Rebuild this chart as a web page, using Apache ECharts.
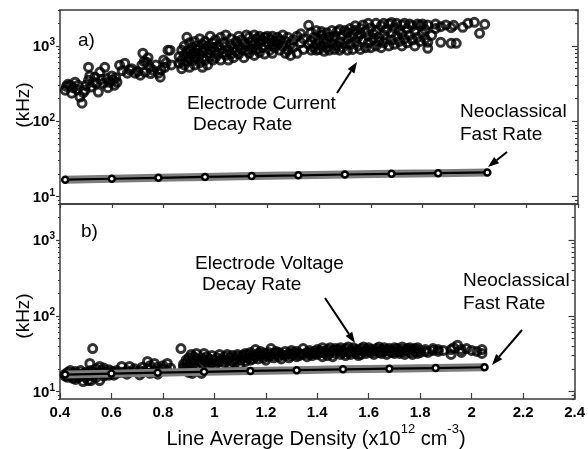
<!DOCTYPE html>
<html>
<head>
<meta charset="utf-8">
<script src="https://cdn.jsdelivr.net/npm/echarts@6/dist/echarts.min.js"></script>
<style>
  html, body { margin: 0; padding: 0; background: #fff; }
  #chart { width: 588px; height: 449px; }
</style>
</head>
<body>
<div id="chart"></div>
<script>
// Electrode current decay rate (kHz) versus line average density (1e12 cm^-3)
const currentDecay = [
  [0.42,259],[0.425,290],[0.43,310],[0.44,302],[0.445,236],[0.45,280],[0.458,330],[0.465,265],
  [0.47,300],[0.477,210],[0.485,174],[0.49,240],[0.497,259],[0.50,300],[0.51,523],[0.51,350],
  [0.515,400],[0.52,285],[0.53,330],[0.535,385],[0.54,320],[0.548,245],[0.554,450],[0.56,360],
  [0.567,320],[0.573,520],[0.58,370],[0.585,280],[0.59,330],[0.60,400],[0.605,350],[0.61,300],
  [0.615,380],[0.62,330],
  [0.63,555],[0.64,470],[0.65,590],[0.66,435],[0.67,480],[0.677,500],[0.69,435],[0.70,460],
  [0.71,410],[0.716,555],[0.72,800],[0.725,620],[0.728,450],[0.735,610],[0.74,700],[0.747,520],
  [0.75,430],[0.76,475],[0.77,560],[0.78,435],[0.787,385],[0.79,480],[0.80,650],[0.805,520],
  [0.81,600],[0.817,880],[0.825,880],[0.83,560],
  [0.86,590],[0.86,720],[0.87,500],[0.87,880],[0.87,650],[0.88,1000],[0.88,760],[0.88,560],
  [0.89,1300],[0.89,850],[0.89,620],[0.90,880],[0.90,700],[0.90,1100],[0.90,520],[0.91,950],
  [0.91,780],[0.91,640],[0.92,1150],[0.92,820],[0.92,560],[0.92,700],[0.93,1000],[0.93,680],
  [0.93,900],[0.94,1250],[0.94,760],[0.94,600],[0.95,1050],[0.95,850],[0.95,700],[0.95,520],
  [0.96,920],[0.96,1150],[0.96,650],[0.97,800],[0.97,1000],[0.97,560],[0.98,1350],[0.98,880],
  [0.98,720],[0.99,950],[0.99,650],[0.99,1100],[1.00,850],[1.00,1200],[1.00,700],[1.01,1000],
  [1.01,780],[1.02,900],[1.02,1300],[1.02,650],[1.03,1100],[1.03,820],[1.04,750],[1.04,980],
  [1.04,1400],[1.05,870],[1.05,650],[1.06,1050],[1.06,1250],[1.06,780],[1.07,920],[1.07,700],
  [1.08,1150],[1.08,850],[1.09,1350],[1.09,780],[1.09,1000],[1.10,900],[1.10,1200],[1.11,700],
  [1.11,1050],[1.12,1400],[1.12,880],
  [1.13,1000],[1.13,1300],[1.13,800],[1.14,1150],[1.14,900],[1.15,1400],[1.15,1050],[1.15,750],
  [1.16,1250],[1.16,900],[1.17,1100],[1.17,1350],[1.17,820],[1.18,950],[1.18,1200],[1.19,1300],
  [1.19,1000],[1.19,780],[1.20,1100],[1.20,1350],[1.21,880],[1.21,1250],[1.22,1000],[1.22,1350],
  [1.22,800],[1.23,1150],[1.23,950],[1.24,1300],[1.24,1050],[1.25,880],[1.25,1200],[1.26,1400],
  [1.26,1000],[1.27,1150],[1.27,800],[1.28,880],[1.28,1300],[1.29,750],[1.29,1050],[1.30,1200],
  [1.30,950],[1.315,800],[1.315,1350],[1.33,1100],[1.33,1450],[1.34,900],[1.34,1250],[1.36,1880],
  [1.36,1050],
  [1.37,880],[1.37,1150],[1.37,1500],[1.38,950],[1.38,1300],[1.39,1600],[1.39,1050],[1.39,880],
  [1.40,1200],[1.40,900],[1.41,1400],[1.41,1000],[1.41,1550],[1.42,850],[1.42,1250],[1.43,1100],
  [1.43,1500],[1.43,950],[1.44,1300],[1.44,880],[1.45,1600],[1.45,1050],[1.46,900],[1.46,1350],
  [1.46,1200],[1.47,1550],[1.47,1000],[1.48,880],[1.48,1150],[1.48,1650],[1.49,1400],[1.49,950],
  [1.50,1100],[1.50,1600],[1.51,880],[1.51,1250],[1.51,1500],[1.52,1050],[1.52,1700],[1.53,1350],
  [1.53,900],[1.54,1600],[1.54,1150],[1.54,1850],[1.55,1000],[1.55,1300],[1.56,900],[1.56,1700],
  [1.56,1450],[1.57,1200],[1.57,1900],[1.58,950],[1.58,1550],[1.59,1350],[1.59,1100],[1.59,2000],
  [1.60,1750],[1.60,950],[1.61,1250],[1.61,1450],[1.62,1000],[1.62,2000],[1.62,1600],[1.63,1300],
  [1.63,1150],[1.64,1850],[1.64,950],[1.65,1400],[1.65,1100],[1.65,2000],[1.66,1650],[1.66,1250],
  [1.67,1000],[1.67,1950],[1.68,1500],[1.68,1200],[1.68,2050],[1.69,1750],[1.69,1050],[1.70,1350],
  [1.70,2000],[1.71,1150],[1.71,1600],[1.72,1900],[1.72,1000],[1.72,1450],[1.73,1250],[1.73,2000],
  [1.74,1700],[1.74,1100],[1.75,1950],[1.75,1400],[1.76,1200],[1.76,1850],[1.77,1550],[1.77,1000],
  [1.78,1950],[1.78,1300],[1.79,1880],[1.79,1150],[1.80,1470],[1.80,1950],[1.81,1650],[1.81,1250],
  [1.82,1120],[1.82,930],[1.82,1900],[1.835,1385],[1.85,1700],[1.85,1950],[1.87,1120],[1.87,1800],
  [1.89,1900],[1.91,1085],[1.91,1750],[1.92,1880],[1.93,1085],[1.955,1770],[1.975,2000],[2.00,2060],
  [2.02,1470],[2.04,1940]
];

// Electrode voltage decay rate (kHz) versus line average density
const voltageDecay = [
  [0.42,17],[0.42,16],[0.43,18],[0.43,15.5],[0.44,16.5],[0.44,19],[0.45,15],[0.45,17.5],
  [0.46,16],[0.46,18.5],[0.46,14.5],[0.47,17],[0.47,15.5],[0.48,19],[0.48,16],[0.49,13.6],
  [0.49,17.5],[0.50,15.5],[0.50,18],[0.51,17],[0.51,14],[0.516,23.6],[0.516,16.5],[0.52,19],
  [0.52,14],[0.527,37],[0.53,18],[0.53,16],[0.54,20],[0.54,15.5],[0.554,21.5],[0.554,14],
  [0.56,17.5],[0.56,19],[0.57,16],[0.57,20.5],[0.58,18],[0.58,17],[0.59,19.5],[0.59,16.5],
  [0.60,17],[0.60,18.5],[0.61,18],[0.61,16.5],[0.62,19],[0.62,17.5],
  [0.64,21.5],[0.64,18],[0.66,19],[0.66,17],[0.67,21.5],[0.67,18],[0.69,18.5],[0.69,20],
  [0.71,16.6],[0.71,19],[0.72,21],[0.72,18],[0.74,25],[0.74,20],[0.75,22],[0.75,17.5],
  [0.767,23.6],[0.767,19],[0.78,21],[0.78,17],[0.786,18.5],[0.80,20],[0.80,22],[0.817,23.6],
  [0.817,19],[0.83,20.5],
  [0.87,37],[0.88,23],[0.88,21],[0.89,26],[0.89,20],[0.89,24],[0.90,28],[0.90,22],[0.90,18],
  [0.91,31],[0.91,25],[0.91,21],[0.914,17.4],[0.92,29],[0.92,23],[0.92,26],[0.93,32],[0.93,20],
  [0.93,27],[0.95,17.4],[0.95,24],[0.95,28],[0.96,32],[0.96,22],[0.96,26],[0.97,25],[0.97,29],
  [0.98,21],[0.98,27],[0.99,24],[0.99,30],[1.00,26],[1.00,22],[1.01,28],[1.01,24],[1.02,31],
  [1.02,25],[1.03,22],[1.03,27],[1.04,29],[1.04,24],[1.05,26],[1.05,31],[1.06,23],[1.06,28],
  [1.07,30],[1.07,25],[1.08,27],[1.08,24],[1.09,29],[1.09,31],[1.10,26],[1.10,23],[1.11,28],
  [1.11,30],[1.12,25],[1.12,32],
  [1.13,28],[1.13,31],[1.14,26],[1.14,33],[1.15,30],[1.15,27],[1.16,36],[1.16,29],[1.17,32],
  [1.17,27],[1.18,30],[1.18,34],[1.19,28],[1.19,32],[1.20,31],[1.20,26],[1.21,33],[1.21,29],
  [1.22,37],[1.22,30],[1.23,28],[1.23,32],[1.24,31],[1.24,34],[1.25,29],[1.25,33],[1.26,27],
  [1.26,31],[1.275,34],[1.275,30],[1.29,32],[1.29,28],[1.30,35],[1.30,30],[1.31,31],[1.31,33],
  [1.32,29],[1.32,34],[1.33,32],[1.33,30],[1.345,37],[1.345,31],[1.36,33],[1.36,29],[1.37,35],
  [1.37,31],[1.38,30],[1.38,33],[1.39,34],[1.39,32],
  [1.40,31],[1.40,36],[1.41,33],[1.41,35],[1.42,29],[1.42,38],[1.43,34],[1.43,32],[1.44,36],
  [1.44,30],[1.45,33],[1.45,38],[1.46,35],[1.46,29],[1.47,32],[1.47,37],[1.48,34],[1.48,36],
  [1.49,31],[1.49,38],[1.50,35],[1.50,33],[1.51,37],[1.51,30],[1.52,33],[1.52,39],[1.53,35],
  [1.53,31],[1.54,38],[1.54,34],[1.55,32],[1.55,36],[1.56,35],[1.56,30],[1.57,37],[1.57,31],
  [1.58,34],[1.58,39],[1.59,32],[1.59,36],[1.60,38],[1.60,34],[1.61,33],[1.61,36],[1.62,35],
  [1.62,31],[1.63,37],[1.63,34],[1.64,33],[1.64,39],[1.65,36],[1.65,32],[1.66,34],[1.66,38],
  [1.67,31],[1.67,36],[1.68,37],[1.68,34],[1.69,33],[1.69,35],[1.70,38],[1.70,32],[1.71,35],
  [1.71,37],[1.72,32],[1.72,34],[1.73,36],[1.73,39],[1.74,34],[1.74,31],[1.75,37],[1.75,35],
  [1.76,33],[1.76,38],[1.77,36],[1.77,31],[1.78,34],[1.78,37],[1.79,38],[1.79,32],[1.80,35],
  [1.80,33],[1.82,36],[1.82,34],[1.83,33],[1.85,37],[1.85,35],[1.87,34],[1.87,36],[1.89,35],
  [1.92,31],[1.92,36],[1.93,38],[1.945,41],[1.96,36],[1.96,33],[1.98,37],[2.00,35],[2.02,34],
  [2.04,32],[2.04,36]
];

// Neoclassical fast rate (same curve in both panels)
const neoDensity = [0.42, 0.60, 0.78, 0.96, 1.14, 1.32, 1.50, 1.68, 1.86, 2.05];
const neoRate    = [16.8, 17.3, 17.8, 18.3, 18.8, 19.2, 19.7, 20.1, 20.5, 21.0];

// Axis ticks
const rateMajorTicks = [10, 100, 1000];
const rateMinorTicks = [8, 9, 20, 30, 40, 50, 60, 70, 80, 90,
                        200, 300, 400, 500, 600, 700, 800, 900, 2000, 3000];

const FONT = '"Liberation Sans", Arial, Helvetica, sans-serif';
const AXIS_COLOR = '#3a3a3a';
const RATE_MIN = 8, RATE_MAX = 3000;

const neoPairs = neoDensity.map((d, i) => [d, neoRate[i]]);

function xAxesFor(grid, showLabels) {
  return [
    {
      gridIndex: grid, type: 'value', min: 0.4, max: 2.4, interval: 0.2, position: 'bottom',
      axisLine: { show: true, onZero: false, lineStyle: { color: AXIS_COLOR, width: 1.5 } },
      axisTick: { show: true, inside: showLabels, length: showLabels ? 6 : 4,
                  lineStyle: { color: AXIS_COLOR, width: 1.2 } },
      axisLabel: { show: showLabels, margin: 6, color: '#000', fontFamily: FONT,
                   fontSize: 15, fontWeight: 'bold' },
      splitLine: { show: false }
    },
    {
      gridIndex: grid, type: 'value', min: 0.4, max: 2.4, interval: 0.2, position: 'top',
      axisLine: { show: true, onZero: false, lineStyle: { color: AXIS_COLOR, width: 1.5 } },
      axisTick: { show: false }, axisLabel: { show: false }, splitLine: { show: false }
    }
  ];
}

function logLabel(v) {
  const e = Math.round(Math.log10(v));
  return '{b|10}{s|' + e + '}';
}

function yAxesFor(grid) {
  const base = { gridIndex: grid, type: 'log', logBase: 10, min: RATE_MIN, max: RATE_MAX,
                 splitLine: { show: false } };
  const tickStyle = { color: AXIS_COLOR, width: 1.2 };
  return [
    Object.assign({}, base, {
      position: 'left',
      axisLine: { show: true, onZero: false, lineStyle: { color: AXIS_COLOR, width: 1.5 } },
      axisTick: { show: true, inside: false, length: 4, customValues: rateMajorTicks, lineStyle: tickStyle },
      axisLabel: {
        show: true, margin: 5, customValues: rateMajorTicks, formatter: logLabel,
        rich: {
          b: { fontFamily: FONT, fontSize: 15, fontWeight: 'bold', color: '#000',
               lineHeight: 17, verticalAlign: 'bottom' },
          s: { fontFamily: FONT, fontSize: 10, fontWeight: 'bold', color: '#000',
               lineHeight: 10, verticalAlign: 'top' }
        }
      }
    }),
    Object.assign({}, base, {
      position: 'left', axisLine: { show: false },
      axisTick: { show: true, inside: false, length: 2, customValues: rateMinorTicks, lineStyle: tickStyle },
      axisLabel: { show: false }
    }),
    Object.assign({}, base, {
      position: 'right',
      axisLine: { show: true, onZero: false, lineStyle: { color: AXIS_COLOR, width: 1.5 } },
      axisTick: { show: true, inside: true, length: 6, customValues: rateMajorTicks, lineStyle: tickStyle },
      axisLabel: { show: false }
    }),
    Object.assign({}, base, {
      position: 'right', axisLine: { show: false },
      axisTick: { show: true, inside: true, length: 3, customValues: rateMinorTicks, lineStyle: tickStyle },
      axisLabel: { show: false }
    })
  ];
}

function panelSeries(grid, points) {
  const xi = grid * 2, yi = grid * 4;
  return [
    {
      type: 'scatter', xAxisIndex: xi, yAxisIndex: yi, data: points,
      symbol: 'circle', symbolSize: 8,
      itemStyle: { color: 'rgba(255,255,255,0)', borderColor: '#000', borderWidth: 3 },
      z: 3
    },
    {
      type: 'line', xAxisIndex: xi, yAxisIndex: yi, data: neoPairs,
      showSymbol: false, symbol: 'none',
      lineStyle: { color: '#7d7d7d', width: 8 }, z: 4
    },
    {
      type: 'line', xAxisIndex: xi, yAxisIndex: yi, data: neoPairs,
      symbol: 'circle', symbolSize: 6, showSymbol: true,
      lineStyle: { color: '#000', width: 2.2 },
      itemStyle: { color: '#fff', borderColor: '#000', borderWidth: 2.5 }, z: 5
    }
  ];
}

function text(str, x, y, size, opts) {
  return Object.assign({
    type: 'text', x: x, y: y, silent: true,
    style: { text: str, fill: '#000', font: size + 'px ' + FONT,
             align: 'left', verticalAlign: 'middle',
             textAlign: 'left', textVerticalAlign: 'middle' }
  }, opts || {});
}

function arrow(x1, y1, x2, y2) {
  const ang = Math.atan2(y2 - y1, x2 - x1);
  const len = 11, half = 4;
  const bx = x2 - len * Math.cos(ang), by = y2 - len * Math.sin(ang);
  const px = -Math.sin(ang) * half, py = Math.cos(ang) * half;
  return {
    type: 'group', silent: true,
    children: [
      { type: 'line', shape: { x1: x1, y1: y1, x2: bx, y2: by },
        style: { stroke: '#000', lineWidth: 2 } },
      { type: 'polygon', shape: { points: [[x2, y2], [bx + px, by + py], [bx - px, by - py]] },
        style: { fill: '#000' } }
    ]
  };
}

const kHzStyle = (y) => ({
  type: 'text', x: 24, y: y, rotation: Math.PI / 2, silent: true,
  style: { text: '(kHz)', fill: '#000', font: '19px ' + FONT,
           align: 'center', verticalAlign: 'middle',
           textAlign: 'center', textVerticalAlign: 'middle' }
});

const chart = echarts.init(document.getElementById('chart'), null, { renderer: 'canvas' });
chart.setOption({
  backgroundColor: '#fff',
  animation: false,
  grid: [
    { left: 60, right: 10, top: 10, height: 194 },
    { left: 60, right: 10, top: 204, height: 195 }
  ],
  xAxis: xAxesFor(0, false).concat(xAxesFor(1, true)),
  yAxis: yAxesFor(0).concat(yAxesFor(1)),
  series: panelSeries(0, currentDecay).concat(panelSeries(1, voltageDecay)),
  graphic: [
    kHzStyle(105),
    kHzStyle(316),
    text('a)', 78, 41, 19),
    text('b)', 81, 232, 19),
    text('Electrode Current', 187, 104, 19),
    text('Decay Rate', 193, 125, 19),
    text('Electrode Voltage', 195, 264, 19),
    text('Decay Rate', 202, 285, 19),
    text('Neoclassical', 460, 112, 19),
    text('Fast Rate', 460, 135, 19),
    text('Neoclassical', 463, 281, 19),
    text('Fast Rate', 463, 304, 19),
    arrow(337, 93, 357, 62),
    arrow(507, 152, 488, 167),
    arrow(325, 298, 355, 343),
    arrow(522, 330, 492, 365),
    {
      type: 'text', x: 316, y: 436, silent: true,
      style: {
        text: '{n|Line Average Density (x10}{s|12}{n| cm}{s|-3}{n|)}',
        align: 'center', verticalAlign: 'middle',
        textAlign: 'center', textVerticalAlign: 'middle',
        rich: {
          n: { fontFamily: FONT, fontSize: 20, fill: '#000', color: '#000',
               lineHeight: 26, verticalAlign: 'bottom' },
          s: { fontFamily: FONT, fontSize: 13, fill: '#000', color: '#000',
               lineHeight: 13, verticalAlign: 'top' }
        }
      }
    }
  ]
});
</script>
</body>
</html>
